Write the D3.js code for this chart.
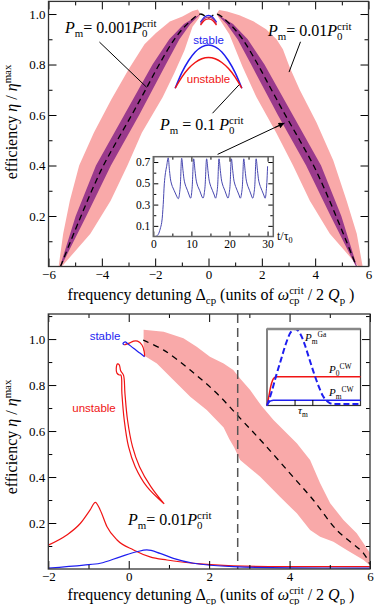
<!DOCTYPE html>
<html>
<head>
<meta charset="utf-8">
<script src="https://cdn.jsdelivr.net/npm/d3@7"></script>
<style>
body { margin: 0; background: #fff; }
svg { display: block; }
</style>
</head>
<body>
<svg id="chart" width="374" height="605"></svg>
<script>
// ---- top panel data (efficiency vs detuning) ----
// pink band, P_m = 0.01 P0crit : outer edge (bottom->top) then inner edge (top->bottom)
var pinkLeftOuter = [[-5.62,0],[-5.45,0.13],[-5.2,0.26],[-4.85,0.4],[-4.3,0.53],[-3.65,0.66],[-3.0,0.78],[-2.4,0.88],[-1.97,0.925],[-1.45,0.97],[-0.98,0.99],[-0.6,1.012],[-0.4,1.018],[-0.3,1.0]];
var pinkLeftInner = [[-0.35,0.985],[-0.6,0.95],[-0.9,0.857],[-1.28,0.766],[-1.72,0.67],[-2.5,0.53],[-3.04,0.4],[-3.67,0.26],[-4.43,0.13],[-5.5,0]];
var pinkRightOuter = [[5.78,0],[5.56,0.13],[5.18,0.26],[4.68,0.42],[4.05,0.57],[3.42,0.70],[3.04,0.79],[2.79,0.86],[2.55,0.9],[2.16,0.94],[1.7,0.97],[1.16,0.995],[0.7,1.01],[0.4,1.016],[0.3,1.0]];
var pinkRightInner = [[0.38,0.985],[0.78,0.92],[1.28,0.79],[1.8,0.67],[2.54,0.53],[3.17,0.40],[3.8,0.26],[4.55,0.13],[5.62,0]];
// purple band, P_m = 0.001 P0crit
var purpleLeftOuter = [[-5.57,0],[-4.98,0.2],[-4.22,0.4],[-3.16,0.6],[-2.1,0.8],[-1.47,0.9],[-0.92,0.96],[-0.3,1.0]];
var purpleLeftInner = [[-0.3,1.0],[-0.68,0.96],[-1.09,0.9],[-1.6,0.8],[-2.6,0.6],[-3.66,0.4],[-4.58,0.2],[-5.53,0]];
var purpleRightOuter = [[5.57,0],[4.98,0.2],[4.22,0.4],[3.16,0.6],[2.1,0.8],[1.47,0.9],[0.92,0.96],[0.3,1.0]];
var purpleRightInner = [[0.3,1.0],[0.68,0.96],[1.09,0.9],[1.6,0.8],[2.6,0.6],[3.66,0.4],[4.58,0.2],[5.53,0]];
// dashed centre line
var dashTopX = [-5.55,-5.17,-4.78,-4.38,-3.94,-3.42,-2.88,-2.36,-1.85,-1.28,-0.8,-0.3,0,0.3,0.8,1.28,1.85,2.36,2.88,3.42,3.94,4.38,4.78,5.17,5.55];
var dashTopY = [0,0.1,0.2,0.3,0.4,0.5,0.6,0.7,0.8,0.9,0.96,1.0,0.985,1.0,0.96,0.9,0.8,0.7,0.6,0.5,0.4,0.3,0.2,0.1,0];
// P_m = 0.1 P0crit arcs
var arcX = [-1.25,-1.0,-0.75,-0.5,-0.25,0,0.25,0.5,0.75,1.0,1.25];
var arcStable = [0.706,0.768,0.815,0.85,0.870,0.877,0.870,0.85,0.815,0.768,0.706];
var arcUnstable = [0.706,0.75,0.784,0.808,0.823,0.828,0.823,0.808,0.784,0.75,0.706];
var smallArcX = [-0.3,-0.15,0,0.15,0.3];
var smallBlue = [0.968,0.988,0.995,0.988,0.968];
var smallPurple = [0.962,0.982,0.988,0.982,0.962];
var smallRed = [0.956,0.975,0.981,0.975,0.956];
// inset: efficiency vs t/tau0
var insetT = [0,0.8,1.3,1.8,2.2,2.6,2.9,3.2,3.5,3.9,
  4.25,4.6,5.0,5.5,6.0,6.55,7.0,7.45,
  7.8,8.15,8.55,9.0,9.4,9.8,10.15,10.6,
  10.95,11.3,11.7,12.2,12.6,13.05,13.5,14.0,
  14.35,14.7,15.1,15.55,16.0,16.35,16.8,17.25,
  17.6,17.95,18.35,18.8,19.2,19.6,20.05,20.5,
  20.85,21.2,21.6,22.05,22.5,22.85,23.3,23.75,
  24.1,24.45,24.85,25.3,25.7,26.1,26.55,27.0,
  27.35,27.7,28.1,28.55,29.0,29.35,29.7,30.0];
var insetEff = [0,0.003,0.02,0.07,0.13,0.3,0.5,0.6,0.66,0.74,
  0.62,0.52,0.47,0.43,0.39,0.355,0.44,0.735,
  0.62,0.52,0.47,0.43,0.39,0.36,0.44,0.73,
  0.62,0.52,0.47,0.43,0.39,0.36,0.44,0.73,
  0.62,0.52,0.47,0.43,0.39,0.36,0.44,0.73,
  0.62,0.52,0.47,0.43,0.39,0.36,0.44,0.73,
  0.62,0.52,0.47,0.43,0.39,0.36,0.44,0.73,
  0.62,0.52,0.47,0.43,0.39,0.36,0.44,0.73,
  0.62,0.52,0.47,0.43,0.39,0.36,0.45,0.66];

// ---- bottom panel data ----
var pinkBotUpper = [[0.37,1.04],[0.87,1.032],[1.36,1.003],[1.69,0.967],[2.02,0.923],[2.36,0.894],[2.6,0.865],[2.77,0.829],[3.02,0.778],[3.3,0.71],[3.6,0.648],[4.18,0.547],[4.51,0.474],[4.76,0.373],[5.01,0.286],[5.34,0.213],[5.67,0.155],[6.0,0.07]];
var pinkBotLower = [[6.0,0.015],[5.84,0.039],[5.42,0.083],[5.09,0.119],[4.76,0.14],[4.51,0.17],[4.18,0.242],[3.76,0.314],[3.27,0.401],[2.77,0.474],[2.62,0.53],[2.5,0.565],[2.36,0.615],[1.94,0.691],[1.53,0.749],[1.03,0.836],[0.70,0.894],[0.41,0.925],[0.37,0.95]];
var dashBotX = [0.36,0.87,1.53,2.19,2.8,3.35,4.01,4.59,5.17,5.84,6.0];
var dashBotY = [0.995,0.952,0.865,0.764,0.65,0.547,0.416,0.30,0.17,0.068,0.02];
var markerLine = 2.71;
// stable / unstable branches at P_m = 0.01 P0crit
var stableLoop = [[-0.11,0.975],[-0.144,0.981],[-0.087,0.988],[-0.03,0.981],[0.12,0.960],[0.286,0.938],[0.393,0.923]];
var unstableLoop = [[-0.11,0.975],[-0.005,0.981],[0.12,0.991],[0.219,0.991],[0.33,0.974],[0.385,0.945],[0.393,0.924]];
var unstableLong = [[0.882,0.283],[0.55,0.358],[0.268,0.445],[0.094,0.532],[-0.03,0.648],[-0.094,0.764],[-0.13,0.843],[-0.2,0.862],[-0.235,0.888],[-0.278,0.892],[-0.31,0.873],[-0.293,0.852],[-0.235,0.844],[-0.194,0.843],[-0.17,0.764],[-0.112,0.648],[-0.005,0.532],[0.161,0.445],[0.452,0.358],[0.865,0.286]];
var redLowX = [-2,-1.54,-1.2,-0.96,-0.83,-0.71,-0.54,-0.29,0.12,0.53,0.95,1.78,2.6,3.85,6];
var redLowY = [0.104,0.148,0.199,0.257,0.29,0.257,0.184,0.126,0.083,0.053,0.039,0.022,0.014,0.010,0.010];
var blueLowX = [-2,-1.12,-0.71,-0.21,0.2,0.45,0.78,1.11,1.61,2.6,4.0,6];
var blueLowY = [0.004,0.017,0.025,0.053,0.075,0.083,0.068,0.046,0.025,0.010,0.005,0.004];
// inset: pulse shapes
var gaT = [0,0.5,1.0,1.5,2.0,2.5,3.0,3.5,4.0,4.5,5.0,5.5,6.0,6.5,7.0,10];
var gaP = [0.0,0.18,0.4,0.6,0.8,0.95,1.0,0.95,0.81,0.62,0.43,0.26,0.12,0.05,0.02,0.02];
var cw0T = [0,0.2,0.4,0.6,0.8,1.1,10];
var cw0P = [0,0.12,0.25,0.33,0.365,0.375,0.375];
var cwmT = [0,0.2,0.4,0.7,10];
var cwmP = [0,0.04,0.06,0.07,0.07];

var SERIF = "'Liberation Serif','Times New Roman',serif";
var SANS = "'Liberation Sans',Arial,sans-serif";
var PINK = "#f9a9a9", PURPLE = "#9a3a8c", RED = "#f01414", BLUE = "#1e1ef0";

var svg = d3.select("#chart");

function rich(parent, x, y, parts, size, anchor) {
  var t = parent.append("text").attr("x", x).attr("y", y)
    .attr("font-family", SERIF).attr("font-size", size)
    .attr("text-anchor", anchor || "start").attr("fill", "#000");
  var base = 0, lastLen = 0;
  parts.forEach(function(p) {
    var s = t.append("tspan").text(p.t);
    var off = 0, fs = size;
    if (p.sub) { off = size * 0.28; fs = size * 0.68; }
    if (p.sup) { off = -size * 0.38; fs = size * 0.68; }
    s.attr("dy", off - base).attr("font-size", fs);
    base = off;
    if (p.i) s.attr("font-style", "italic");
    if (p.stack) s.attr("dx", -lastLen);
    lastLen = s.node().getComputedTextLength();
  });
  return t;
}

function poly(g, x, y, pts, fill) {
  g.append("path")
    .attr("d", d3.line().x(function(d){return x(d[0])}).y(function(d){return y(d[1])})(pts) + "Z")
    .attr("fill", fill);
}

function curve(g, x, y, xs, ys, color, width, dash, kind) {
  var pts = xs.map(function(v, i){ return [v, ys[i]]; });
  var p = g.append("path")
    .attr("d", d3.line().curve(kind || d3.curveMonotoneX).x(function(d){return x(d[0])}).y(function(d){return y(d[1])})(pts))
    .attr("fill", "none").attr("stroke", color).attr("stroke-width", width);
  if (dash) p.attr("stroke-dasharray", dash);
  return p;
}

function ticks(g, axis, pos, vals, len, fmt, size) {
  axis.tickValues(vals).tickSizeInner(-len).tickSizeOuter(0).tickPadding(3)
    .tickFormat(fmt || function(){ return ""; });
  var s = g.append("g").attr("transform", pos).call(axis);
  s.select(".domain").remove();
  s.selectAll("line").attr("stroke", "#000");
  s.selectAll("text").attr("font-family", SERIF).attr("font-size", size || 13).attr("fill", "#000");
}

function frame(x, y, xMaj, xMin, yMaj, yMin, xFmt, yFmt, size, major, minor, col, w) {
  var g = svg.append("g");
  var xr = x.range(), yr = y.range();
  ticks(g, d3.axisBottom(x), "translate(0," + yr[0] + ")", xMaj, major, xFmt, size);
  ticks(g, d3.axisBottom(x), "translate(0," + yr[0] + ")", xMin, minor);
  ticks(g, d3.axisTop(x), "translate(0," + yr[1] + ")", xMaj, major);
  ticks(g, d3.axisTop(x), "translate(0," + yr[1] + ")", xMin, minor);
  ticks(g, d3.axisLeft(y), "translate(" + xr[0] + ",0)", yMaj, major, yFmt, size);
  ticks(g, d3.axisLeft(y), "translate(" + xr[0] + ",0)", yMin, minor);
  ticks(g, d3.axisRight(y), "translate(" + xr[1] + ",0)", yMaj, major);
  ticks(g, d3.axisRight(y), "translate(" + xr[1] + ",0)", yMin, minor);
  g.append("rect").attr("x", xr[0]).attr("y", yr[1])
    .attr("width", xr[1] - xr[0]).attr("height", yr[0] - yr[1])
    .attr("fill", "none").attr("stroke", col || "#333").attr("stroke-width", w || 1.3);
  return g;
}

var effLabel = [{t:"efficiency "},{t:"\u03b7",i:1},{t:" / "},{t:"\u03b7",i:1},{t:"max",sup:1}];
var xLabel = [{t:"frequency detuning \u0394"},{t:"cp",sub:1},{t:" (units of  "},{t:"\u03c9",i:1},{t:"cp",sub:1},{t:"crit",sup:1,stack:1},{t:" / 2 "},{t:"Q",i:1},{t:"p",sub:1},{t:" )"}];

// ================= TOP PANEL =================
var xT = d3.scaleLinear().domain([-6, 6]).range([48.5, 368.5]);
var yT = d3.scaleLinear().domain([0, 1.05]).range([266.5, 1.4]);
var topG = svg.append("g");

poly(topG, xT, yT, pinkLeftOuter.concat(pinkLeftInner), PINK);
poly(topG, xT, yT, pinkRightOuter.concat(pinkRightInner), PINK);
poly(topG, xT, yT, purpleLeftOuter.concat(purpleLeftInner), PURPLE);
poly(topG, xT, yT, purpleRightOuter.concat(purpleRightInner), PURPLE);
curve(topG, xT, yT, dashTopX, dashTopY, "#000", 1.3, "6,4", d3.curveCatmullRom);

curve(topG, xT, yT, arcX, arcStable, BLUE, 1.5);
curve(topG, xT, yT, arcX, arcUnstable, RED, 1.5);
curve(topG, xT, yT, smallArcX, smallBlue, BLUE, 1.3);
curve(topG, xT, yT, smallArcX, smallPurple, PURPLE, 1.3);
curve(topG, xT, yT, smallArcX, smallRed, RED, 1.3);

topG.append("text").attr("x", xT(0)).attr("y", 44).attr("text-anchor", "middle")
  .attr("font-family", SANS).attr("font-size", 11.5).attr("fill", BLUE).text("stable");
topG.append("text").attr("x", xT(0)).attr("y", 83).attr("text-anchor", "middle")
  .attr("font-family", SANS).attr("font-size", 11.5).attr("fill", RED).text("unstable");

// annotations
function seg(g, x, y, a, b) {
  g.append("line").attr("x1", x(a[0])).attr("y1", y(a[1])).attr("x2", x(b[0])).attr("y2", y(b[1]))
    .attr("stroke", "#000").attr("stroke-width", 1);
}
seg(topG, xT, yT, [-4.09, 0.889], [-2.32, 0.71]);
seg(topG, xT, yT, [3.45, 0.89], [3.02, 0.77]);
seg(topG, xT, yT, [0.15, 0.607], [1.15, 0.72]);
seg(topG, xT, yT, [0.34, 0.444], [2.7, 0.561]);
svg.append("defs").append("marker").attr("id", "ah").attr("viewBox", "0 0 10 10")
  .attr("refX", 10).attr("refY", 5).attr("markerWidth", 8).attr("markerHeight", 6)
  .attr("orient", "auto").append("path").attr("d", "M0,0L10,5L0,10Z").attr("fill", "#000");
topG.append("line").attr("x1", xT(2.5)).attr("y1", yT(0.551)).attr("x2", xT(2.85)).attr("y2", yT(0.568))
  .attr("stroke", "#000").attr("stroke-width", 1).attr("marker-end", "url(#ah)");

rich(topG, 65, 33, [{t:"P",i:1},{t:"m",sub:1},{t:"= 0.001"},{t:"P",i:1},{t:"0",sub:1},{t:"crit",sup:1,stack:1}], 16);
rich(topG, 268, 36, [{t:"P",i:1},{t:"m",sub:1},{t:"= 0.01"},{t:"P",i:1},{t:"0",sub:1},{t:"crit",sup:1,stack:1}], 16);
rich(topG, 160, 130, [{t:"P",i:1},{t:"m",sub:1},{t:" = 0.1 "},{t:"P",i:1},{t:"0",sub:1},{t:"crit",sup:1,stack:1}], 16);

// inset
var xI = d3.scaleLinear().domain([0, 31.5]).range([153.3, 273.3]);
var yI = d3.scaleLinear().domain([0, 0.75]).range([236.5, 156.7]);
svg.append("rect").attr("x", 153.3).attr("y", 156.7).attr("width", 120).attr("height", 79.8).attr("fill", "#fff");
curve(svg, xI, yI, insetT, insetEff, "#4848b0", 1, null, d3.curveCatmullRom);
frame(xI, yI, [0, 10, 20, 30], [5, 15, 25], [0.1, 0.3, 0.5, 0.7], [0.2, 0.4, 0.6],
  d3.format("d"), d3.format(".1f"), 11.5, 5, 3, "#666", 1.5);
rich(svg, 277, 240, [{t:"t/\u03c4"},{t:"0",sub:1}], 12);

frame(xT, yT, [-6, -4, -2, 0, 2, 4, 6], [-5, -3, -1, 1, 3, 5],
  [0.2, 0.4, 0.6, 0.8, 1.0], [0.1, 0.3, 0.5, 0.7, 0.9],
  d3.format("d"), d3.format(".1f"), 13, 8, 4);
rich(svg, 211, 300, xLabel, 16, "middle");
rich(svg, -122, 17, effLabel, 16, "middle").attr("transform", "rotate(-90)");

// ================= BOTTOM PANEL =================
var xB = d3.scaleLinear().domain([-2, 6]).range([48.3, 370]);
var yB = d3.scaleLinear().domain([0, 1.109]).range([569, 314]);
var botG = svg.append("g");

poly(botG, xB, yB, pinkBotUpper.concat(pinkBotLower), PINK);
curve(botG, xB, yB, dashBotX, dashBotY, "#000", 1.3, "6,5", d3.curveCatmullRom);
botG.append("line").attr("x1", xB(markerLine)).attr("x2", xB(markerLine))
  .attr("y1", yB.range()[1]).attr("y2", yB.range()[0])
  .attr("stroke", "#555").attr("stroke-width", 1.5).attr("stroke-dasharray", "9,5");

curve(botG, xB, yB, redLowX, redLowY, RED, 1.2);
curve(botG, xB, yB, blueLowX, blueLowY, BLUE, 1.2);
curve(botG, xB, yB, unstableLong.map(function(d){return d[0]}), unstableLong.map(function(d){return d[1]}), RED, 1.2, null, d3.curveCatmullRom);
curve(botG, xB, yB, unstableLoop.map(function(d){return d[0]}), unstableLoop.map(function(d){return d[1]}), RED, 1.2, null, d3.curveCatmullRom);
curve(botG, xB, yB, stableLoop.map(function(d){return d[0]}), stableLoop.map(function(d){return d[1]}), BLUE, 1.2, null, d3.curveCatmullRom);

botG.append("text").attr("x", 105).attr("y", 340).attr("text-anchor", "middle")
  .attr("font-family", SANS).attr("font-size", 11.5).attr("fill", BLUE).text("stable");
botG.append("text").attr("x", 94).attr("y", 412).attr("text-anchor", "middle")
  .attr("font-family", SANS).attr("font-size", 11.5).attr("fill", RED).text("unstable");
rich(botG, 128, 525, [{t:"P",i:1},{t:"m",sub:1},{t:"= 0.01"},{t:"P",i:1},{t:"0",sub:1},{t:"crit",sup:1,stack:1}], 16);

// inset with pulse shapes
var xP = d3.scaleLinear().domain([0, 10]).range([267, 360.5]);
var yP = d3.scaleLinear().domain([0, 1]).range([405.5, 329]);
svg.append("rect").attr("x", 267).attr("y", 329).attr("width", 93.5).attr("height", 76.5)
  .attr("fill", "#fff").attr("stroke", "#333").attr("stroke-width", 1.2);
curve(svg, xP, yP, cw0T, cw0P, RED, 1.5);
curve(svg, xP, yP, cwmT, cwmP, BLUE, 1.5);
curve(svg, xP, yP, gaT, gaP, BLUE, 2, "6,3");
svg.append("line").attr("x1", 267).attr("x2", 360.5).attr("y1", 329).attr("y2", 329)
  .attr("stroke", "#888").attr("stroke-width", 2.5);
[3.0, 4.9].forEach(function(v) {
  svg.append("line").attr("x1", xP(v)).attr("x2", xP(v)).attr("y1", 405.5).attr("y2", 400)
    .attr("stroke", "#000");
});
rich(svg, 298, 414, [{t:"\u03c4",i:1},{t:"m",sub:1}], 11);
rich(svg, 305, 341, [{t:"P",i:1},{t:"m",sub:1},{t:"Ga",sup:1}], 11);
rich(svg, 329, 373, [{t:"P",i:1},{t:"0",sub:1},{t:"CW",sup:1}], 11);
rich(svg, 329, 396, [{t:"P",i:1},{t:"m",sub:1},{t:"CW",sup:1}], 11);

frame(xB, yB, [-2, 0, 2, 4, 6], [-1, 1, 3, 5],
  [0.2, 0.4, 0.6, 0.8, 1.0], [0.1, 0.3, 0.5, 0.7, 0.9, 1.1],
  d3.format("d"), d3.format(".1f"), 13, 8, 4);
rich(svg, 211, 600, xLabel, 16, "middle");
rich(svg, -437, 17, effLabel, 16, "middle").attr("transform", "rotate(-90)");
</script>
</body>
</html>
